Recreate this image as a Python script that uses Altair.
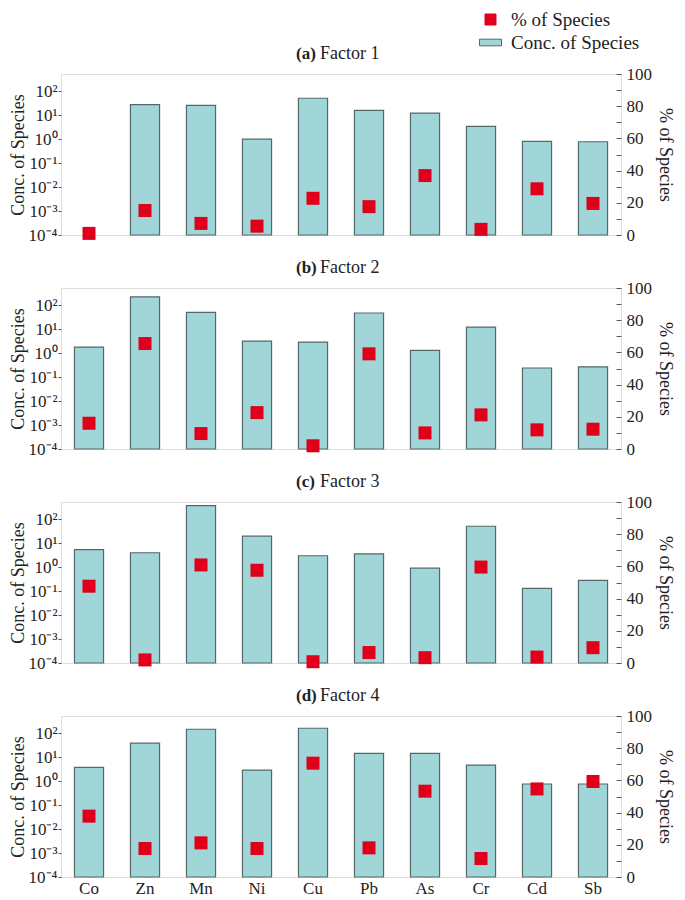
import altair as alt
import pandas as pd

elements = ["Co", "Zn", "Mn", "Ni", "Cu", "Pb", "As", "Cr", "Cd", "Sb"]
series = ["% of Species", "Conc. of Species"]

conc_f1 = [None, 27.5, 25.7, 1.0, 51, 15.8, 12.3, 3.4, 0.81, 0.78]
pct_f1 = [1.0, 15.2, 7.2, 5.5, 22.8, 17.6, 36.9, 3.5, 28.7, 19.6]
conc_f2 = [1.8, 224, 50, 3.2, 2.9, 47.6, 1.3, 12.3, 0.24, 0.27]
pct_f2 = [16.0, 65.5, 9.6, 22.6, 2.0, 59.1, 10.0, 21.2, 11.9, 12.3]
conc_f3 = [5.4, 4.0, 372, 19.6, 3.0, 3.6, 0.91, 51, 0.13, 0.28]
pct_f3 = [47.7, 1.9, 60.9, 57.6, 0.8, 6.5, 3.3, 59.6, 3.7, 9.5]
conc_f4 = [3.8, 38.6, 147, 2.9, 162, 14.4, 14.4, 4.7, 0.76, 0.76]
pct_f4 = [37.8, 17.7, 21.2, 17.7, 70.7, 18.1, 53.3, 11.5, 54.7, 59.3]

panels = [
    ("(a)", "Factor 1", conc_f1, pct_f1),
    ("(b)", "Factor 2", conc_f2, pct_f2),
    ("(c)", "Factor 3", conc_f3, pct_f3),
    ("(d)", "Factor 4", conc_f4, pct_f4),
]

SERIF = "Liberation Serif"
TXT = "#222222"
RED = "#e0001b"
BAR_FILL = "#a0d6d8"
BAR_STROKE = "#56676a"
SQ_PATH = "M-0.5,-0.5H0.5V0.5H-0.5Z"
RECT_PATH = "M-1,-0.3H1V0.3H-1Z"

W = 560
H = 161

log_expr = (
    "datum.value >= 50 ? '10²' : datum.value >= 5 ? '10¹' : "
    "datum.value >= 0.5 ? '10⁰' : datum.value >= 0.05 ? '10⁻¹' : "
    "datum.value >= 0.005 ? '10⁻²' : datum.value >= 0.0005 ? '10⁻³' : '10⁻⁴'"
)

color_scale = alt.Scale(domain=series, range=[RED, BAR_FILL])
stroke_scale = alt.Scale(domain=series, range=[RED, BAR_STROKE])
shape_scale = alt.Scale(domain=series, range=[SQ_PATH, RECT_PATH])


def make_legend():
    return alt.Legend(
        title=None, orient="none", legendX=W - 142, legendY=-66,
        symbolSize=484, symbolStrokeWidth=1, labelFont=SERIF, labelFontSize=19,
        labelColor=TXT, labelOffset=9, rowPadding=1, padding=0,
    )


def panel(letter, name, conc, pct, first, last):
    df = pd.DataFrame({"element": elements, "conc": conc, "pct": pct,
                       "s_conc": series[1], "s_pct": series[0]})
    base = alt.Chart(df)
    if last:
        xaxis = alt.Axis(title=None, labelAngle=0, labelFont=SERIF, labelFontSize=17,
                         labelColor=TXT, domain=False, tickSize=5, offset=-5,
                         tickColor="#555", labelPadding=3, grid=False)
    else:
        xaxis = None
    xenc = alt.X("element:N", sort=elements,
                 scale=alt.Scale(paddingInner=0.48, paddingOuter=0.24), axis=xaxis)

    left_axis = alt.Axis(
        title="Conc. of Species", values=[1e-4, 1e-3, 1e-2, 1e-1, 1, 10, 100],
        labelExpr=log_expr, grid=False, domain=False, tickSize=3, tickColor="#555",
        labelFont=SERIF, labelFontSize=17, labelColor=TXT, labelPadding=1,
        titleFont=SERIF, titleFontSize=18, titleFontWeight="normal",
        titleColor=TXT, titlePadding=1,
    )
    right_axis = alt.Axis(
        title="% of Species", orient="right", values=list(range(0, 101, 10)),
        labelExpr="datum.value % 20 == 0 ? datum.label : ''", grid=False,
        domain=False, tickSize=5, offset=-5, tickColor="#555",
        labelFont=SERIF, labelFontSize=17, labelColor=TXT, labelPadding=5,
        titleFont=SERIF, titleFontSize=18, titleFontWeight="normal",
        titleColor=TXT, titlePadding=4, titleAngle=90,
    )

    if first:
        bar_color = alt.Color("s_conc:N", scale=color_scale, legend=make_legend())
        bar_stroke = alt.Stroke("s_conc:N", scale=stroke_scale, legend=make_legend())
        pt_color = alt.Color("s_pct:N", scale=color_scale, legend=make_legend())
        pt_shape = alt.Shape("s_pct:N", scale=shape_scale, legend=make_legend())
    else:
        bar_color = alt.value(BAR_FILL)
        bar_stroke = alt.value(BAR_STROKE)
        pt_color = alt.value(RED)
        pt_shape = alt.value(SQ_PATH)

    bars = base.mark_bar(strokeWidth=1.2, opacity=1).encode(
        x=xenc,
        y=alt.Y("conc:Q", scale=alt.Scale(type="log", domain=[1e-4, 525]), axis=left_axis),
        y2=alt.datum(1e-4),
        color=bar_color,
        stroke=bar_stroke,
    )
    pts = base.mark_point(filled=True, size=676, opacity=1).encode(
        x=xenc,
        y=alt.Y("pct:Q", scale=alt.Scale(domain=[0, 100]), axis=right_axis),
        color=pt_color,
        shape=pt_shape,
    )
    tdf = pd.DataFrame({"lab": [letter], "name": [name]})
    t1 = alt.Chart(tdf).mark_text(font=SERIF, fontSize=17, fontWeight="bold",
                                  align="left", baseline="alphabetic", color=TXT).encode(
        text="lab:N", x=alt.value(W / 2 - 45), y=alt.value(-15))
    t2 = alt.Chart(tdf).mark_text(font=SERIF, fontSize=18, align="left",
                                  baseline="alphabetic", color=TXT).encode(
        text="name:N", x=alt.value(W / 2 - 21), y=alt.value(-15))
    return alt.layer(bars, pts, t1, t2).resolve_scale(y="independent").properties(
        width=W, height=H)


charts = [panel(l, n, c, p, i == 0, i == 3) for i, (l, n, c, p) in enumerate(panels)]
chart = alt.vconcat(*charts, spacing=14).properties(
    padding={"left": 0, "top": 0, "right": 2, "bottom": 0}
).configure_view(stroke="#808080", strokeWidth=1.2).configure(font=SERIF)

chart.save("out.html", embed_options={"renderer": "svg", "actions": False})
